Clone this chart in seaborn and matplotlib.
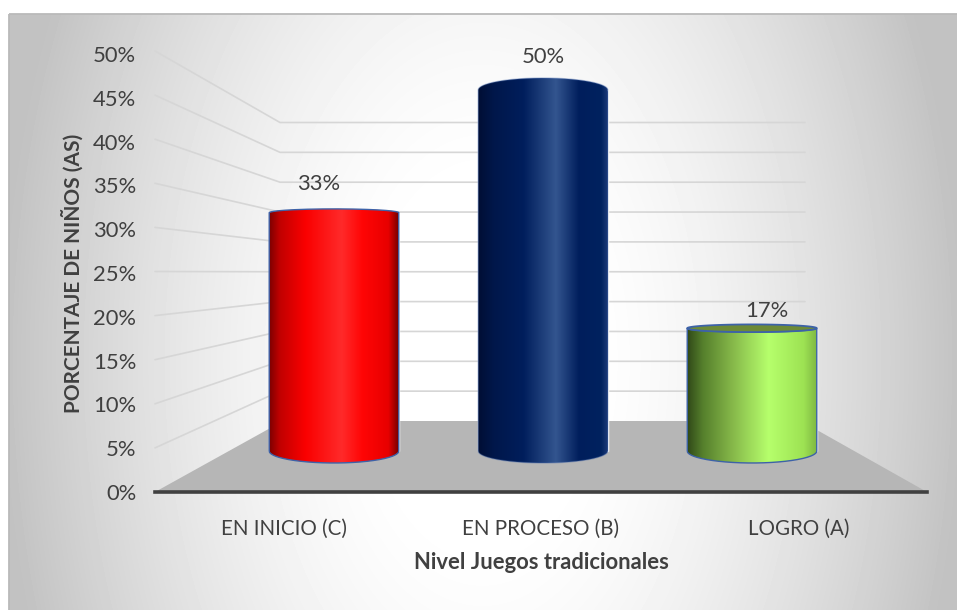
import numpy as np
import matplotlib
matplotlib.use("Agg")
import matplotlib.pyplot as plt
import seaborn as sns
from matplotlib.colors import LinearSegmentedColormap
from matplotlib.patches import PathPatch, Polygon, Rectangle
from matplotlib.path import Path

niveles = ["EN INICIO (C)", "EN PROCESO (B)", "LOGRO (A)"]
porcentajes = [33, 50, 17]
marcas_y = [0, 5, 10, 15, 20, 25, 30, 35, 40, 45, 50]
base_color = ["#ff0000", "#002060", "#92d050"]
rampas = [
    [(0.0, "#7c0000"), (0.08, "#c00000"), (0.28, "#fa0000"), (0.56, "#ff2a2a"),
     (0.72, "#ff0505"), (0.92, "#e80000"), (1.0, "#750000")],
    [(0.0, "#000e34"), (0.12, "#00174a"), (0.35, "#001e5c"), (0.60, "#33558f"),
     (0.78, "#001e5c"), (0.95, "#00225f"), (1.0, "#1c3a78")],
    [(0.0, "#304818"), (0.12, "#557f2c"), (0.35, "#86b84a"), (0.63, "#b6ff6c"),
     (0.90, "#9de253"), (1.0, "#7fb843")],
]
separacion_etiqueta = [29, 33, 17]

W, H = 957, 610
TEXTO = "#404040"

sns.set_theme(style="white")
plt.rcParams["font.family"] = ["Lato", "DejaVu Sans"]

fig = plt.figure(figsize=(W / 100, H / 100), dpi=100, facecolor="white")


def ejes_px(x0, x1, y_top, y_bottom, **kw):
    """Axes placed by pixel edges, measured from the top-left of the figure."""
    return fig.add_axes([x0 / W, 1 - y_bottom / H, (x1 - x0) / W, (y_bottom - y_top) / H], **kw)


# Backdrop: soft radial gradient, chart frame, side and back walls, floor
fondo = ejes_px(0, W, 0, H, zorder=0)
fondo.axis("off")
xx, yy = np.meshgrid(np.arange(9, W), np.arange(14, H))
t = np.hypot((xx - 482) / 480, (yy - 360) / 800)
gris = 1 - 0.24 * np.clip((t - 0.2) / 0.8, 0, 1) ** 1.5
fondo.imshow(gris, cmap="gray", vmin=0, vmax=1, extent=(9, W, H, 14), aspect="auto", zorder=0)
fondo.add_patch(Rectangle((9, 14), W, H, fill=False, ec="#bababa", lw=1.3, zorder=1))
fondo.set_xlim(0, W)
fondo.set_ylim(H, 0)

for m in marcas_y[1:]:
    cara_frontal = 492 - m * 8.82
    pared_fondo = 421 - m * 5.97
    fondo.plot([155, 280, 805], [cara_frontal, pared_fondo, pared_fondo], color="#d6d6d6", lw=1.2, zorder=2)
fondo.add_patch(Polygon([(155, 492), (283, 421), (801, 421), (927, 492)], closed=True,
                        fc="#b6b6b6", ec="none", zorder=3))

# Front axis: tick labels, axis titles and the heavy baseline
frente = ejes_px(155, 927, 54, 492, zorder=1)
frente.patch.set_visible(False)
frente.set_xlim(-0.5, 2.5)
frente.set_ylim(0, 50)
frente.set_xticks(range(len(niveles)), niveles)
frente.set_yticks(marcas_y, [f"{m}%" for m in marcas_y])
frente.tick_params(axis="x", length=0, labelsize=14.8, labelcolor=TEXTO, pad=19)
frente.tick_params(axis="y", length=0, labelsize=15.8, labelcolor=TEXTO, pad=13.5)
for lado in ("top", "right", "left"):
    frente.spines[lado].set_visible(False)
frente.spines["bottom"].set_color("#404040")
frente.spines["bottom"].set_linewidth(2.6)
frente.set_xlabel("Nivel Juegos tradicionales", fontsize=15.8, fontweight="bold", color=TEXTO, labelpad=10)
frente.set_ylabel("PORCENTAJE DE NIÑOS (AS)", fontsize=15, fontweight="bold", color=TEXTO, labelpad=6.5)

# Cylinders sit on a plane set back from the front axis
ESCALA = 7.22
ejes = ejes_px(229.5, 856.5, 451 - 50 * ESCALA - 5 * ESCALA, 451 + 5 * ESCALA, zorder=2)
ejes.patch.set_visible(False)
sns.barplot(x=niveles, y=porcentajes, hue=niveles, palette=base_color, dodge=False,
            legend=False, width=0.62, saturation=1, ax=ejes, zorder=1)
ejes.set_xlim(-0.5, 2.5)
ejes.set_ylim(-5, 55)
ejes.axis("off")


def inclinacion(valor):
    # Rim ellipses flatten towards eye level, around the middle of the scale
    return 1.66 * (1 - valor / 25)


def arco(xc, ancho, yc, alto, inicio, fin):
    a = np.linspace(inicio, fin, 80)
    return np.column_stack([xc + ancho / 2 * np.cos(a), yc + alto * np.sin(a)])


BORDE = "#3d62a8"
for i, (barra, valor) in enumerate(zip(ejes.patches, porcentajes)):
    xc = barra.get_x() + barra.get_width() / 2
    ancho = barra.get_width()
    inc_tapa = inclinacion(valor)
    inferior = arco(xc, ancho, 0, inclinacion(0), np.pi, 2 * np.pi)
    arco_alto = arco(xc, ancho, valor, abs(inc_tapa), 0, np.pi)
    arco_bajo = arco(xc, ancho, valor, abs(inc_tapa), 2 * np.pi, np.pi)
    visto_desde_arriba = inc_tapa > 0
    cuerpo = np.vstack([inferior, arco_bajo if visto_desde_arriba else arco_alto, inferior[:1]])
    clip = PathPatch(Path(cuerpo), fc="none", ec="none", transform=ejes.transData)
    ejes.add_patch(clip)
    cmap = LinearSegmentedColormap.from_list(f"cilindro{i}", rampas[i])
    im = ejes.imshow(np.linspace(0, 1, 256)[None, :], cmap=cmap, aspect="auto",
                     extent=(xc - ancho / 2, xc + ancho / 2, -3, valor + 3), zorder=2)
    im.set_clip_path(clip)
    ejes.add_patch(PathPatch(Path(cuerpo), fc="none", ec=BORDE, lw=1.0, zorder=3,
                             alpha=0.35 if i == 1 else 1))
    if visto_desde_arriba:
        tapa = np.vstack([arco_alto, arco_bajo[::-1]])
        ejes.add_patch(PathPatch(Path(tapa), fc="#6d8a37", ec=BORDE, lw=1.3, zorder=4))
    ejes.annotate(f"{valor}%", xy=(xc, valor), xytext=((i - 1) * 10.8, 0.72 * separacion_etiqueta[i]),
                  textcoords="offset points", ha="center", va="center",
                  fontsize=15.8, color=TEXTO, zorder=5)
ejes.set_xlim(-0.5, 2.5)
ejes.set_ylim(-5, 55)

fig.savefig("out.png", dpi=100)
